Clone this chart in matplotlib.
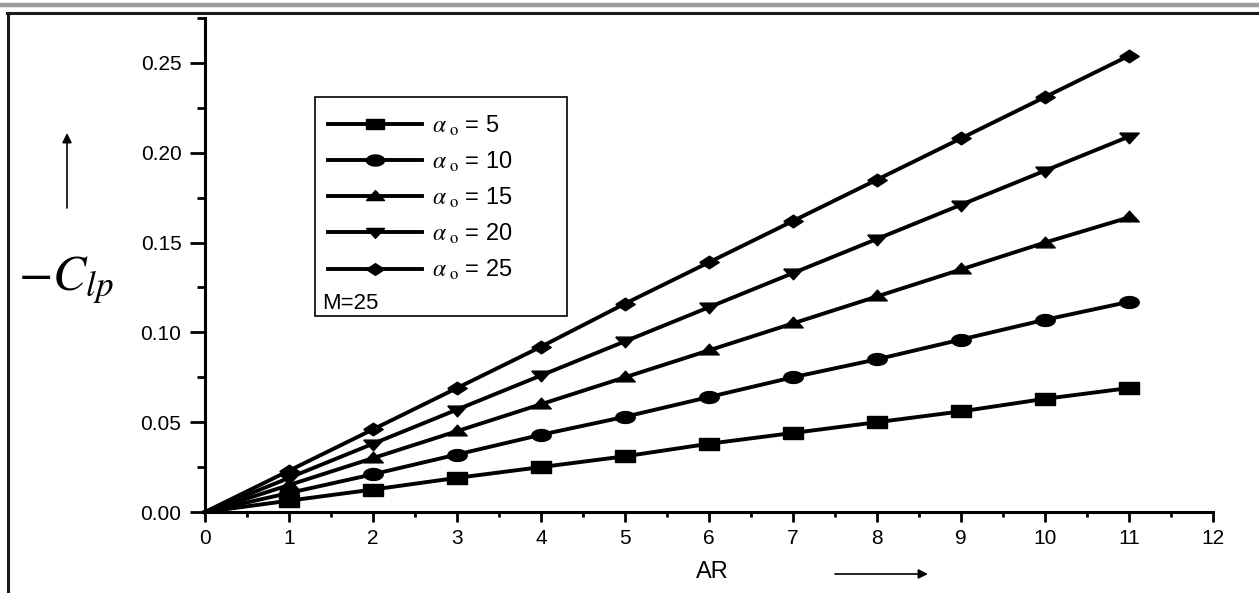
import numpy as np
import matplotlib
matplotlib.use('Agg')
from matplotlib import pyplot as plt
from matplotlib.lines import Line2D
from matplotlib.patches import Rectangle
from matplotlib.ticker import MultipleLocator

plt.rcParams['font.family'] = ['Liberation Sans', 'DejaVu Sans']
plt.rcParams['mathtext.fontset'] = 'stix'

# aspect ratio AR
ar = [0, 1, 2, 3, 4, 5, 6, 7, 8, 9, 10, 11]

# -Clp for each alpha_o (M = 25)
clp_a5 = [0.0, 0.0063, 0.0125, 0.019, 0.025, 0.031, 0.038, 0.044, 0.050, 0.056, 0.063, 0.069]
clp_a10 = [0.0, 0.0106, 0.021, 0.032, 0.043, 0.053, 0.064, 0.075, 0.085, 0.096, 0.107, 0.117]
clp_a15 = [0.0, 0.015, 0.030, 0.045, 0.060, 0.075, 0.090, 0.105, 0.120, 0.135, 0.150, 0.164]
clp_a20 = [0.0, 0.019, 0.038, 0.057, 0.076, 0.095, 0.114, 0.133, 0.152, 0.171, 0.190, 0.209]
clp_a25 = [0.0, 0.023, 0.046, 0.069, 0.092, 0.116, 0.139, 0.162, 0.185, 0.208, 0.231, 0.254]

alphas = [5, 10, 15, 20, 25]
series = [clp_a5, clp_a10, clp_a15, clp_a20, clp_a25]

# markers are a bit wider than tall, like in the scanned figure
t = np.linspace(0, 2 * np.pi, 40)
m_square = [(-0.85, -0.5), (0.85, -0.5), (0.85, 0.5), (-0.85, 0.5), (-0.85, -0.5)]
m_circle = list(zip(0.9 * np.cos(t), 0.55 * np.sin(t)))
m_up = [(-1, -0.45), (1, -0.45), (0, 0.65), (-1, -0.45)]
m_down = [(-1, 0.45), (1, 0.45), (0, -0.65), (-1, 0.45)]
m_diamond = [(-1, 0), (0, 0.65), (1, 0), (0, -0.65), (-1, 0)]
markers = [m_square, m_circle, m_up, m_down, m_diamond]

fig = plt.figure(figsize=(12.59, 5.93), dpi=100)
ax = fig.add_axes([205 / 1259, 1 - 512 / 593, 1008 / 1259, 494 / 593])

handles = []
for a, y, mk in zip(alphas, series, markers):
    ax.plot(ar, y, color='black', lw=2.8, marker=mk, markersize=14,
            markevery=slice(1, None), clip_on=False)
    handles.append(Line2D([], [], color='black', lw=2.8, marker=mk, markersize=13))

ax.set_xlim(0, 12)
ax.set_ylim(0, 0.275)
ax.xaxis.set_major_locator(MultipleLocator(1))
ax.xaxis.set_minor_locator(MultipleLocator(0.5))
ax.yaxis.set_major_locator(MultipleLocator(0.05))
ax.yaxis.set_minor_locator(MultipleLocator(0.025))
ax.set_yticks([0, 0.05, 0.10, 0.15, 0.20, 0.25])
ax.set_yticklabels(['0.00', '0.05', '0.10', '0.15', '0.20', '0.25'])

for s in ['top', 'right']:
    ax.spines[s].set_visible(False)
for s in ['left', 'bottom']:
    ax.spines[s].set_linewidth(2.2)

ax.tick_params(axis='both', which='both', direction='out', width=2, labelsize=15)
ax.tick_params(axis='x', which='major', length=7, pad=5)
ax.tick_params(axis='x', which='minor', length=3.5)
ax.tick_params(axis='y', which='major', length=11, pad=6)
ax.tick_params(axis='y', which='minor', length=5.5)

# legend with a hand drawn box
labels = [r'$\alpha_{\ \mathrm{o}}$ = ' + str(a) for a in alphas]
leg = ax.legend(handles, labels, loc='upper left', bbox_to_anchor=(0.122, 0.807),
                frameon=False, fontsize=17, handlelength=4.0, handletextpad=0.4,
                labelspacing=0.5, borderpad=0, borderaxespad=0)
ax.add_patch(Rectangle((0.109, 0.397), 0.250, 0.443, transform=ax.transAxes,
                       fill=False, edgecolor='black', lw=1.2))
ax.text(0.116, 0.422, 'M=25', transform=ax.transAxes, fontsize=16, ha='left', va='center')

# axis labels with arrows
fig.text(66 / 1259, 1 - 280 / 593, r'$-C_{lp}$', fontsize=36, ha='center', va='center')
fig.text(712 / 1259, 1 - 572 / 593, 'AR', fontsize=17, ha='center', va='center')
fig.add_artist(plt.Annotation('', xy=(67 / 1259, 1 - 133 / 593), xytext=(67 / 1259, 1 - 208 / 593),
                              xycoords='figure fraction',
                              arrowprops=dict(arrowstyle='-|>', color='black', lw=1.2,
                                              mutation_scale=14, shrinkA=0, shrinkB=0)))
fig.add_artist(plt.Annotation('', xy=(928 / 1259, 1 - 574 / 593), xytext=(835 / 1259, 1 - 574 / 593),
                              xycoords='figure fraction',
                              arrowprops=dict(arrowstyle='-|>', color='black', lw=1.2,
                                              mutation_scale=14, shrinkA=0, shrinkB=0)))

# page frame of the scanned figure
fig.add_artist(Line2D([0, 1], [1 - 5 / 593, 1 - 5 / 593], color='#9a9a9a', lw=3.2))
fig.add_artist(Line2D([7 / 1259, 1], [1 - 13 / 593, 1 - 13 / 593], color='#1a1a1a', lw=2.2))
fig.add_artist(Line2D([8 / 1259, 8 / 1259], [0, 1 - 13 / 593], color='#1a1a1a', lw=2.2))

plt.savefig('out.png', dpi=100)
plt.close()
